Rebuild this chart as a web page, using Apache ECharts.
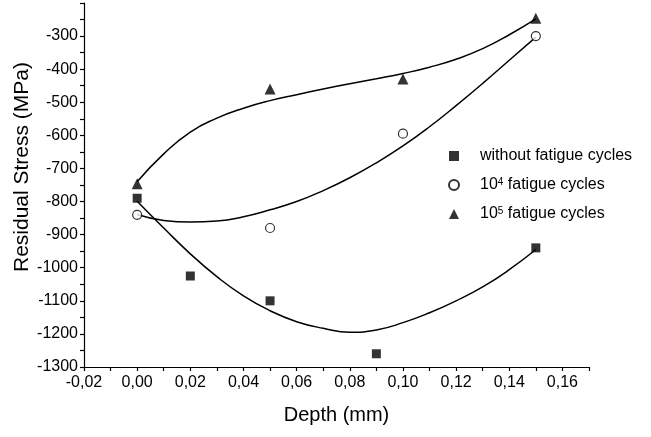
<!DOCTYPE html>
<html>
<head>
<meta charset="utf-8">
<script src="https://cdn.jsdelivr.net/npm/echarts@6/dist/echarts.min.js"></script>
<style>html,body{margin:0;padding:0;background:#fff}#c{width:651px;height:437px}</style>
</head>
<body>
<div id="c"></div>
<script>
// Measured points
const depthSq = [0, 0.02, 0.05, 0.09, 0.15];
const stressSq = [-790, -1025, -1100, -1260, -940];
const depthPts = [0, 0.05, 0.10, 0.15];
const stress1e4 = [-840, -880, -595, -300];
const stress1e5 = [-746, -460, -430, -246];

// Fitted curves at 0.01 mm steps
const fitDepth = [0, 0.01, 0.02, 0.03, 0.04, 0.05, 0.06, 0.07, 0.08, 0.09, 0.10, 0.11, 0.12, 0.13, 0.14, 0.15];
const fitSq  = [-799, -880, -958, -1027, -1085, -1130, -1163, -1183, -1195, -1188, -1166, -1136, -1100, -1058, -1006, -945];
const fit1e4 = [-839, -857, -862, -859, -846, -825, -800, -767, -728, -683, -632, -574, -510, -443, -373, -303];
const fit1e5 = [-740, -656, -590, -548, -518, -495, -477, -460, -444, -429, -413, -394, -370, -338, -296, -248];

const seriesNames = ['without fatigue cycles', '10^4 fatigue cycles', '10^5 fatigue cycles'];

const zip = (xs, ys) => xs.map((x, i) => [x, ys[i]]);
const FONT = 'Liberation Sans, Arial, sans-serif';

const lineStyle = { color: '#000', width: 1.5 };
function fitSeries(ys) {
  return { type: 'line', data: zip(fitDepth, ys), smooth: 0.5, showSymbol: false, symbol: 'none',
    lineStyle: lineStyle, silent: true, z: 2, legendHoverLink: false };
}

const chart = echarts.init(document.getElementById('c'), null, { renderer: 'canvas' });
chart.setOption({
  animation: false,
  backgroundColor: '#fff',
  grid: { left: 84, right: 62, top: 3, bottom: 70, containLabel: false },
  xAxis: {
    type: 'value', min: -0.02, max: 0.17, interval: 0.01,
    name: 'Depth (mm)', nameLocation: 'middle', nameGap: 38,
    nameTextStyle: { fontFamily: FONT, fontSize: 20, color: '#000' },
    axisLine: { show: true, onZero: false, lineStyle: { color: '#000', width: 1.2 } },
    axisTick: { show: true, length: 4, lineStyle: { color: '#000', width: 1.2 } },
    axisLabel: { fontFamily: FONT, fontSize: 16, color: '#000', margin: 8,
      formatter: v => { const k = Math.round(v * 100); if (k % 2 !== 0 || k > 16) return ''; return (k / 100).toFixed(2).replace('.', ','); } },
    splitLine: { show: false }
  },
  yAxis: {
    type: 'value', min: -1300, max: -200, interval: 50,
    name: 'Residual Stress (MPa)', nameLocation: 'middle', nameGap: 51, nameMoveOverlap: false,
    nameTextStyle: { fontFamily: FONT, fontSize: 21, color: '#000', padding: [0, 0, 0, 36] },
    axisLine: { show: true, onZero: false, lineStyle: { color: '#000', width: 1.2 } },
    axisTick: { show: true, length: 4, lineStyle: { color: '#000', width: 1.2 } },
    axisLabel: { fontFamily: FONT, fontSize: 16, color: '#000', margin: 6,
      formatter: v => { const k = Math.round(v); if (k % 100 !== 0 || k > -300) return ''; return String(k); } },
    splitLine: { show: false }
  },
  legend: {
    orient: 'vertical', left: 443, top: 143, itemWidth: 10, itemHeight: 10, itemGap: 13,
    data: seriesNames,
    textStyle: { fontFamily: FONT, fontSize: 16, color: '#000', padding: [0, 0, 0, 16],
      rich: { sup: { fontFamily: FONT, fontSize: 10, verticalAlign: 'top', color: '#000' } } },
    formatter: n => n.replace(/\^(\d)/, '{sup|$1}')
  },
  series: [
    fitSeries(fitSq), fitSeries(fit1e4), fitSeries(fit1e5),
    { name: seriesNames[0], type: 'scatter', data: zip(depthSq, stressSq), symbol: 'rect', symbolSize: 9,
      itemStyle: { color: '#000' }, z: 3 },
    { name: seriesNames[1], type: 'scatter', data: zip(depthPts, stress1e4), symbol: 'circle', symbolSize: 9,
      itemStyle: { color: '#fff', borderColor: '#000', borderWidth: 1.2 }, z: 3 },
    { name: seriesNames[2], type: 'scatter', data: zip(depthPts, stress1e5), symbol: 'triangle', symbolSize: 11,
      itemStyle: { color: '#000' }, z: 3 }
  ]
});
</script>
</body>
</html>
